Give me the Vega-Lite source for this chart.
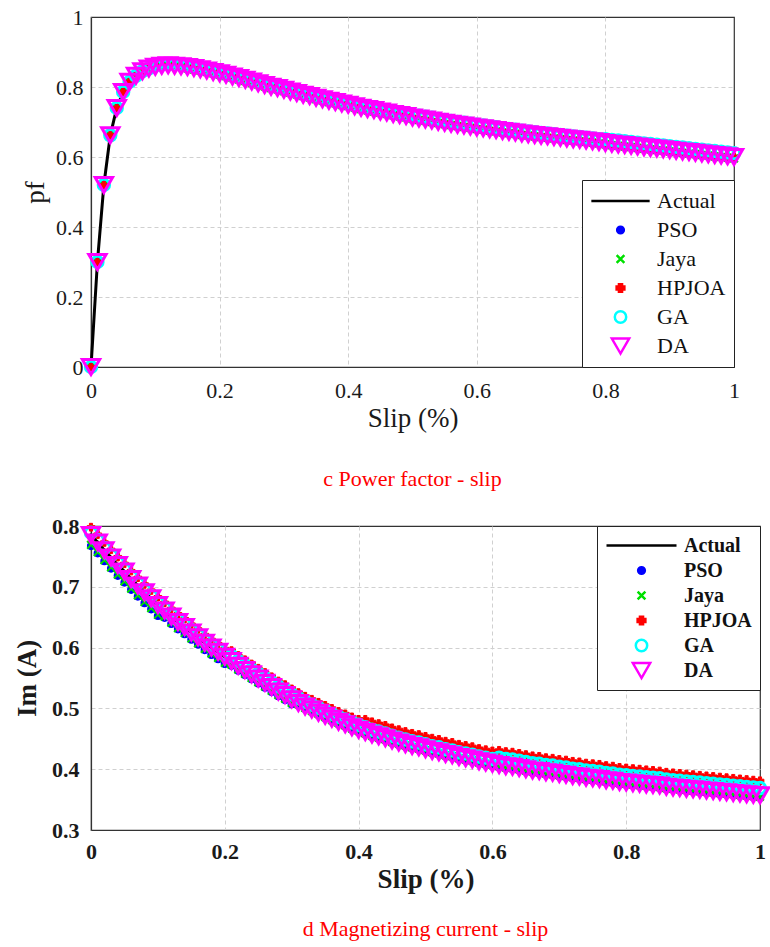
{
"$schema":"https://vega.github.io/schema/vega-lite/v6.json",
"padding":{"left":12,"top":5,"right":5,"bottom":5},
"config":{
 "font":"Liberation Serif, Times New Roman, serif",
 "view":{"stroke":"#333","strokeWidth":1.2},
 "axis":{"labelFont":"Liberation Serif, Times New Roman, serif","labelFontSize":22,"labelColor":"#1a1a1a","titleFont":"Liberation Serif, Times New Roman, serif","titleFontSize":27,"titleFontWeight":"normal","titleColor":"#1a1a1a","domainColor":"#333","domainWidth":1.2,"ticks":false,"grid":true,"gridColor":"#d0d0d0","gridDash":[4,3],"gridWidth":1,"labelFlush":false,"gridOpacity":{"condition":{"test":"datum.value === 1","value":0},"value":1}},
 "legend":{"labelFont":"Liberation Serif, Times New Roman, serif"},
 "title":{"font":"Liberation Serif, Times New Roman, serif"}
},
"datasets":{
"pf":[
{"s":0,"Actual":0,"PSO":0,"Jaya":0,"HPJOA":0,"GA":0,"DA":0},
{"s":0.01,"Actual":0.3,"PSO":0.3,"Jaya":0.3,"HPJOA":0.3,"GA":0.3,"DA":0.3},
{"s":0.02,"Actual":0.52,"PSO":0.52,"Jaya":0.52,"HPJOA":0.52,"GA":0.52,"DA":0.52},
{"s":0.03,"Actual":0.662,"PSO":0.662,"Jaya":0.662,"HPJOA":0.662,"GA":0.662,"DA":0.662},
{"s":0.04,"Actual":0.74,"PSO":0.74,"Jaya":0.74,"HPJOA":0.74,"GA":0.74,"DA":0.74},
{"s":0.05,"Actual":0.786,"PSO":0.786,"Jaya":0.786,"HPJOA":0.786,"GA":0.786,"DA":0.786},
{"s":0.06,"Actual":0.815,"PSO":0.815,"Jaya":0.815,"HPJOA":0.815,"GA":0.815,"DA":0.815},
{"s":0.07,"Actual":0.832,"PSO":0.832,"Jaya":0.832,"HPJOA":0.832,"GA":0.832,"DA":0.832},
{"s":0.08,"Actual":0.845,"PSO":0.845,"Jaya":0.845,"HPJOA":0.845,"GA":0.845,"DA":0.845},
{"s":0.09,"Actual":0.853,"PSO":0.853,"Jaya":0.853,"HPJOA":0.853,"GA":0.853,"DA":0.853},
{"s":0.1,"Actual":0.858,"PSO":0.858,"Jaya":0.858,"HPJOA":0.858,"GA":0.862,"DA":0.858},
{"s":0.11,"Actual":0.861,"PSO":0.861,"Jaya":0.861,"HPJOA":0.861,"GA":0.865,"DA":0.861},
{"s":0.12,"Actual":0.862,"PSO":0.862,"Jaya":0.862,"HPJOA":0.862,"GA":0.866,"DA":0.862},
{"s":0.13,"Actual":0.861,"PSO":0.861,"Jaya":0.861,"HPJOA":0.861,"GA":0.865,"DA":0.861},
{"s":0.14,"Actual":0.859,"PSO":0.859,"Jaya":0.859,"HPJOA":0.859,"GA":0.863,"DA":0.859},
{"s":0.15,"Actual":0.857,"PSO":0.852,"Jaya":0.853,"HPJOA":0.857,"GA":0.861,"DA":0.857},
{"s":0.16,"Actual":0.854,"PSO":0.849,"Jaya":0.85,"HPJOA":0.854,"GA":0.858,"DA":0.854},
{"s":0.17,"Actual":0.851,"PSO":0.846,"Jaya":0.847,"HPJOA":0.851,"GA":0.855,"DA":0.851},
{"s":0.18,"Actual":0.847,"PSO":0.842,"Jaya":0.843,"HPJOA":0.847,"GA":0.851,"DA":0.847},
{"s":0.19,"Actual":0.843,"PSO":0.838,"Jaya":0.839,"HPJOA":0.843,"GA":0.847,"DA":0.843},
{"s":0.2,"Actual":0.839,"PSO":0.834,"Jaya":0.835,"HPJOA":0.839,"GA":0.843,"DA":0.839},
{"s":0.21,"Actual":0.835,"PSO":0.83,"Jaya":0.831,"HPJOA":0.835,"GA":0.839,"DA":0.835},
{"s":0.22,"Actual":0.83,"PSO":0.825,"Jaya":0.826,"HPJOA":0.83,"GA":0.834,"DA":0.83},
{"s":0.23,"Actual":0.826,"PSO":0.821,"Jaya":0.822,"HPJOA":0.826,"GA":0.83,"DA":0.826},
{"s":0.24,"Actual":0.821,"PSO":0.816,"Jaya":0.817,"HPJOA":0.821,"GA":0.825,"DA":0.821},
{"s":0.25,"Actual":0.816,"PSO":0.811,"Jaya":0.812,"HPJOA":0.816,"GA":0.82,"DA":0.816},
{"s":0.26,"Actual":0.811,"PSO":0.806,"Jaya":0.807,"HPJOA":0.811,"GA":0.815,"DA":0.811},
{"s":0.27,"Actual":0.806,"PSO":0.801,"Jaya":0.802,"HPJOA":0.806,"GA":0.81,"DA":0.806},
{"s":0.28,"Actual":0.801,"PSO":0.796,"Jaya":0.797,"HPJOA":0.801,"GA":0.805,"DA":0.801},
{"s":0.29,"Actual":0.797,"PSO":0.792,"Jaya":0.793,"HPJOA":0.797,"GA":0.801,"DA":0.797},
{"s":0.3,"Actual":0.792,"PSO":0.787,"Jaya":0.788,"HPJOA":0.792,"GA":0.796,"DA":0.792},
{"s":0.31,"Actual":0.787,"PSO":0.782,"Jaya":0.783,"HPJOA":0.787,"GA":0.791,"DA":0.787},
{"s":0.32,"Actual":0.783,"PSO":0.778,"Jaya":0.779,"HPJOA":0.783,"GA":0.787,"DA":0.783},
{"s":0.33,"Actual":0.778,"PSO":0.773,"Jaya":0.774,"HPJOA":0.778,"GA":0.782,"DA":0.778},
{"s":0.34,"Actual":0.774,"PSO":0.769,"Jaya":0.77,"HPJOA":0.774,"GA":0.778,"DA":0.774},
{"s":0.35,"Actual":0.769,"PSO":0.764,"Jaya":0.765,"HPJOA":0.769,"GA":0.773,"DA":0.769},
{"s":0.36,"Actual":0.765,"PSO":0.76,"Jaya":0.761,"HPJOA":0.765,"GA":0.769,"DA":0.765},
{"s":0.37,"Actual":0.761,"PSO":0.756,"Jaya":0.757,"HPJOA":0.761,"GA":0.765,"DA":0.761},
{"s":0.38,"Actual":0.757,"PSO":0.752,"Jaya":0.753,"HPJOA":0.757,"GA":0.761,"DA":0.757},
{"s":0.39,"Actual":0.753,"PSO":0.748,"Jaya":0.749,"HPJOA":0.753,"GA":0.757,"DA":0.753},
{"s":0.4,"Actual":0.749,"PSO":0.744,"Jaya":0.745,"HPJOA":0.749,"GA":0.753,"DA":0.749},
{"s":0.41,"Actual":0.745,"PSO":0.74,"Jaya":0.741,"HPJOA":0.745,"GA":0.749,"DA":0.745},
{"s":0.42,"Actual":0.741,"PSO":0.736,"Jaya":0.737,"HPJOA":0.741,"GA":0.745,"DA":0.741},
{"s":0.43,"Actual":0.737,"PSO":0.732,"Jaya":0.733,"HPJOA":0.737,"GA":0.741,"DA":0.737},
{"s":0.44,"Actual":0.734,"PSO":0.729,"Jaya":0.73,"HPJOA":0.734,"GA":0.738,"DA":0.734},
{"s":0.45,"Actual":0.73,"PSO":0.725,"Jaya":0.726,"HPJOA":0.73,"GA":0.734,"DA":0.73},
{"s":0.46,"Actual":0.727,"PSO":0.722,"Jaya":0.723,"HPJOA":0.727,"GA":0.731,"DA":0.727},
{"s":0.47,"Actual":0.723,"PSO":0.718,"Jaya":0.719,"HPJOA":0.723,"GA":0.727,"DA":0.723},
{"s":0.48,"Actual":0.72,"PSO":0.715,"Jaya":0.716,"HPJOA":0.72,"GA":0.724,"DA":0.72},
{"s":0.49,"Actual":0.717,"PSO":0.712,"Jaya":0.713,"HPJOA":0.717,"GA":0.721,"DA":0.717},
{"s":0.5,"Actual":0.713,"PSO":0.708,"Jaya":0.709,"HPJOA":0.713,"GA":0.721,"DA":0.713},
{"s":0.51,"Actual":0.71,"PSO":0.705,"Jaya":0.706,"HPJOA":0.71,"GA":0.718,"DA":0.71},
{"s":0.52,"Actual":0.707,"PSO":0.702,"Jaya":0.703,"HPJOA":0.707,"GA":0.715,"DA":0.707},
{"s":0.53,"Actual":0.704,"PSO":0.699,"Jaya":0.7,"HPJOA":0.704,"GA":0.712,"DA":0.704},
{"s":0.54,"Actual":0.701,"PSO":0.696,"Jaya":0.697,"HPJOA":0.701,"GA":0.709,"DA":0.701},
{"s":0.55,"Actual":0.698,"PSO":0.693,"Jaya":0.694,"HPJOA":0.698,"GA":0.706,"DA":0.698},
{"s":0.56,"Actual":0.695,"PSO":0.69,"Jaya":0.691,"HPJOA":0.695,"GA":0.703,"DA":0.695},
{"s":0.57,"Actual":0.692,"PSO":0.687,"Jaya":0.688,"HPJOA":0.692,"GA":0.7,"DA":0.692},
{"s":0.58,"Actual":0.69,"PSO":0.685,"Jaya":0.686,"HPJOA":0.69,"GA":0.698,"DA":0.69},
{"s":0.59,"Actual":0.687,"PSO":0.682,"Jaya":0.683,"HPJOA":0.687,"GA":0.695,"DA":0.687},
{"s":0.6,"Actual":0.684,"PSO":0.679,"Jaya":0.68,"HPJOA":0.684,"GA":0.692,"DA":0.684},
{"s":0.61,"Actual":0.682,"PSO":0.677,"Jaya":0.678,"HPJOA":0.682,"GA":0.69,"DA":0.682},
{"s":0.62,"Actual":0.679,"PSO":0.674,"Jaya":0.675,"HPJOA":0.679,"GA":0.687,"DA":0.679},
{"s":0.63,"Actual":0.677,"PSO":0.672,"Jaya":0.673,"HPJOA":0.677,"GA":0.685,"DA":0.677},
{"s":0.64,"Actual":0.674,"PSO":0.669,"Jaya":0.67,"HPJOA":0.674,"GA":0.682,"DA":0.674},
{"s":0.65,"Actual":0.672,"PSO":0.667,"Jaya":0.668,"HPJOA":0.672,"GA":0.68,"DA":0.672},
{"s":0.66,"Actual":0.67,"PSO":0.665,"Jaya":0.666,"HPJOA":0.67,"GA":0.678,"DA":0.67},
{"s":0.67,"Actual":0.667,"PSO":0.662,"Jaya":0.663,"HPJOA":0.667,"GA":0.675,"DA":0.667},
{"s":0.68,"Actual":0.665,"PSO":0.66,"Jaya":0.661,"HPJOA":0.665,"GA":0.673,"DA":0.665},
{"s":0.69,"Actual":0.663,"PSO":0.658,"Jaya":0.659,"HPJOA":0.663,"GA":0.671,"DA":0.663},
{"s":0.7,"Actual":0.661,"PSO":0.656,"Jaya":0.657,"HPJOA":0.661,"GA":0.669,"DA":0.661},
{"s":0.71,"Actual":0.659,"PSO":0.654,"Jaya":0.655,"HPJOA":0.659,"GA":0.667,"DA":0.659},
{"s":0.72,"Actual":0.657,"PSO":0.652,"Jaya":0.653,"HPJOA":0.657,"GA":0.665,"DA":0.657},
{"s":0.73,"Actual":0.655,"PSO":0.65,"Jaya":0.651,"HPJOA":0.655,"GA":0.663,"DA":0.655},
{"s":0.74,"Actual":0.653,"PSO":0.648,"Jaya":0.649,"HPJOA":0.653,"GA":0.661,"DA":0.653},
{"s":0.75,"Actual":0.651,"PSO":0.646,"Jaya":0.647,"HPJOA":0.651,"GA":0.659,"DA":0.651},
{"s":0.76,"Actual":0.649,"PSO":0.644,"Jaya":0.645,"HPJOA":0.649,"GA":0.657,"DA":0.649},
{"s":0.77,"Actual":0.647,"PSO":0.642,"Jaya":0.643,"HPJOA":0.647,"GA":0.655,"DA":0.647},
{"s":0.78,"Actual":0.645,"PSO":0.64,"Jaya":0.641,"HPJOA":0.645,"GA":0.653,"DA":0.645},
{"s":0.79,"Actual":0.643,"PSO":0.638,"Jaya":0.639,"HPJOA":0.643,"GA":0.651,"DA":0.643},
{"s":0.8,"Actual":0.64,"PSO":0.635,"Jaya":0.636,"HPJOA":0.64,"GA":0.651,"DA":0.64},
{"s":0.81,"Actual":0.638,"PSO":0.633,"Jaya":0.634,"HPJOA":0.638,"GA":0.649,"DA":0.638},
{"s":0.82,"Actual":0.636,"PSO":0.631,"Jaya":0.632,"HPJOA":0.636,"GA":0.647,"DA":0.636},
{"s":0.83,"Actual":0.634,"PSO":0.629,"Jaya":0.63,"HPJOA":0.634,"GA":0.645,"DA":0.634},
{"s":0.84,"Actual":0.632,"PSO":0.627,"Jaya":0.628,"HPJOA":0.632,"GA":0.643,"DA":0.632},
{"s":0.85,"Actual":0.63,"PSO":0.625,"Jaya":0.626,"HPJOA":0.63,"GA":0.641,"DA":0.63},
{"s":0.86,"Actual":0.628,"PSO":0.623,"Jaya":0.624,"HPJOA":0.628,"GA":0.639,"DA":0.628},
{"s":0.87,"Actual":0.626,"PSO":0.621,"Jaya":0.622,"HPJOA":0.626,"GA":0.637,"DA":0.626},
{"s":0.88,"Actual":0.624,"PSO":0.619,"Jaya":0.62,"HPJOA":0.624,"GA":0.635,"DA":0.624},
{"s":0.89,"Actual":0.622,"PSO":0.617,"Jaya":0.618,"HPJOA":0.622,"GA":0.633,"DA":0.622},
{"s":0.9,"Actual":0.62,"PSO":0.615,"Jaya":0.616,"HPJOA":0.62,"GA":0.631,"DA":0.62},
{"s":0.91,"Actual":0.618,"PSO":0.613,"Jaya":0.614,"HPJOA":0.618,"GA":0.629,"DA":0.618},
{"s":0.92,"Actual":0.616,"PSO":0.611,"Jaya":0.612,"HPJOA":0.616,"GA":0.627,"DA":0.616},
{"s":0.93,"Actual":0.614,"PSO":0.609,"Jaya":0.61,"HPJOA":0.614,"GA":0.625,"DA":0.614},
{"s":0.94,"Actual":0.612,"PSO":0.607,"Jaya":0.608,"HPJOA":0.612,"GA":0.623,"DA":0.612},
{"s":0.95,"Actual":0.61,"PSO":0.605,"Jaya":0.606,"HPJOA":0.61,"GA":0.621,"DA":0.61},
{"s":0.96,"Actual":0.608,"PSO":0.603,"Jaya":0.604,"HPJOA":0.608,"GA":0.619,"DA":0.608},
{"s":0.97,"Actual":0.606,"PSO":0.601,"Jaya":0.602,"HPJOA":0.606,"GA":0.617,"DA":0.606},
{"s":0.98,"Actual":0.604,"PSO":0.599,"Jaya":0.6,"HPJOA":0.604,"GA":0.615,"DA":0.604},
{"s":0.99,"Actual":0.602,"PSO":0.597,"Jaya":0.598,"HPJOA":0.602,"GA":0.613,"DA":0.602},
{"s":1,"Actual":0.6,"PSO":0.595,"Jaya":0.596,"HPJOA":0.6,"GA":0.611,"DA":0.6}
],
"im":[
{"s":0,"Actual":0.785,"PSO":0.767,"Jaya":0.769,"HPJOA":0.798,"GA":0.789,"DA":0.785},
{"s":0.01,"Actual":0.773,"PSO":0.755,"Jaya":0.757,"HPJOA":0.786,"GA":0.777,"DA":0.773},
{"s":0.02,"Actual":0.76,"PSO":0.742,"Jaya":0.744,"HPJOA":0.773,"GA":0.764,"DA":0.76},
{"s":0.03,"Actual":0.748,"PSO":0.73,"Jaya":0.732,"HPJOA":0.761,"GA":0.752,"DA":0.748},
{"s":0.04,"Actual":0.736,"PSO":0.718,"Jaya":0.72,"HPJOA":0.749,"GA":0.74,"DA":0.736},
{"s":0.05,"Actual":0.725,"PSO":0.707,"Jaya":0.709,"HPJOA":0.738,"GA":0.729,"DA":0.725},
{"s":0.06,"Actual":0.713,"PSO":0.695,"Jaya":0.697,"HPJOA":0.726,"GA":0.717,"DA":0.713},
{"s":0.07,"Actual":0.702,"PSO":0.684,"Jaya":0.686,"HPJOA":0.715,"GA":0.706,"DA":0.702},
{"s":0.08,"Actual":0.691,"PSO":0.673,"Jaya":0.675,"HPJOA":0.704,"GA":0.695,"DA":0.691},
{"s":0.09,"Actual":0.681,"PSO":0.663,"Jaya":0.665,"HPJOA":0.694,"GA":0.685,"DA":0.681},
{"s":0.1,"Actual":0.67,"PSO":0.652,"Jaya":0.654,"HPJOA":0.683,"GA":0.674,"DA":0.67},
{"s":0.11,"Actual":0.661,"PSO":0.649,"Jaya":0.651,"HPJOA":0.674,"GA":0.665,"DA":0.661},
{"s":0.12,"Actual":0.651,"PSO":0.639,"Jaya":0.641,"HPJOA":0.664,"GA":0.655,"DA":0.651},
{"s":0.13,"Actual":0.642,"PSO":0.63,"Jaya":0.632,"HPJOA":0.655,"GA":0.646,"DA":0.642},
{"s":0.14,"Actual":0.634,"PSO":0.622,"Jaya":0.624,"HPJOA":0.647,"GA":0.638,"DA":0.634},
{"s":0.15,"Actual":0.625,"PSO":0.613,"Jaya":0.615,"HPJOA":0.638,"GA":0.629,"DA":0.625},
{"s":0.16,"Actual":0.617,"PSO":0.605,"Jaya":0.607,"HPJOA":0.63,"GA":0.621,"DA":0.617},
{"s":0.17,"Actual":0.608,"PSO":0.596,"Jaya":0.598,"HPJOA":0.621,"GA":0.612,"DA":0.608},
{"s":0.18,"Actual":0.6,"PSO":0.588,"Jaya":0.59,"HPJOA":0.613,"GA":0.604,"DA":0.6},
{"s":0.19,"Actual":0.593,"PSO":0.581,"Jaya":0.583,"HPJOA":0.606,"GA":0.597,"DA":0.593},
{"s":0.2,"Actual":0.585,"PSO":0.573,"Jaya":0.575,"HPJOA":0.598,"GA":0.589,"DA":0.585},
{"s":0.21,"Actual":0.578,"PSO":0.57,"Jaya":0.572,"HPJOA":0.595,"GA":0.586,"DA":0.578},
{"s":0.22,"Actual":0.57,"PSO":0.562,"Jaya":0.564,"HPJOA":0.587,"GA":0.578,"DA":0.57},
{"s":0.23,"Actual":0.563,"PSO":0.555,"Jaya":0.557,"HPJOA":0.58,"GA":0.571,"DA":0.563},
{"s":0.24,"Actual":0.556,"PSO":0.548,"Jaya":0.55,"HPJOA":0.573,"GA":0.564,"DA":0.556},
{"s":0.25,"Actual":0.549,"PSO":0.541,"Jaya":0.543,"HPJOA":0.566,"GA":0.557,"DA":0.549},
{"s":0.26,"Actual":0.542,"PSO":0.534,"Jaya":0.536,"HPJOA":0.559,"GA":0.55,"DA":0.542},
{"s":0.27,"Actual":0.535,"PSO":0.527,"Jaya":0.529,"HPJOA":0.552,"GA":0.543,"DA":0.535},
{"s":0.28,"Actual":0.528,"PSO":0.52,"Jaya":0.522,"HPJOA":0.545,"GA":0.536,"DA":0.528},
{"s":0.29,"Actual":0.522,"PSO":0.514,"Jaya":0.516,"HPJOA":0.539,"GA":0.53,"DA":0.522},
{"s":0.3,"Actual":0.515,"PSO":0.507,"Jaya":0.509,"HPJOA":0.532,"GA":0.523,"DA":0.515},
{"s":0.31,"Actual":0.509,"PSO":0.505,"Jaya":0.507,"HPJOA":0.526,"GA":0.517,"DA":0.509},
{"s":0.32,"Actual":0.503,"PSO":0.499,"Jaya":0.501,"HPJOA":0.52,"GA":0.511,"DA":0.503},
{"s":0.33,"Actual":0.498,"PSO":0.494,"Jaya":0.496,"HPJOA":0.515,"GA":0.506,"DA":0.498},
{"s":0.34,"Actual":0.493,"PSO":0.489,"Jaya":0.491,"HPJOA":0.51,"GA":0.501,"DA":0.493},
{"s":0.35,"Actual":0.488,"PSO":0.484,"Jaya":0.486,"HPJOA":0.505,"GA":0.496,"DA":0.488},
{"s":0.36,"Actual":0.483,"PSO":0.479,"Jaya":0.481,"HPJOA":0.5,"GA":0.491,"DA":0.483},
{"s":0.37,"Actual":0.478,"PSO":0.474,"Jaya":0.476,"HPJOA":0.495,"GA":0.486,"DA":0.478},
{"s":0.38,"Actual":0.474,"PSO":0.47,"Jaya":0.472,"HPJOA":0.491,"GA":0.482,"DA":0.474},
{"s":0.39,"Actual":0.469,"PSO":0.465,"Jaya":0.467,"HPJOA":0.486,"GA":0.477,"DA":0.469},
{"s":0.4,"Actual":0.465,"PSO":0.461,"Jaya":0.463,"HPJOA":0.482,"GA":0.473,"DA":0.465},
{"s":0.41,"Actual":0.461,"PSO":0.457,"Jaya":0.459,"HPJOA":0.482,"GA":0.469,"DA":0.461},
{"s":0.42,"Actual":0.457,"PSO":0.453,"Jaya":0.455,"HPJOA":0.478,"GA":0.465,"DA":0.457},
{"s":0.43,"Actual":0.454,"PSO":0.45,"Jaya":0.452,"HPJOA":0.475,"GA":0.462,"DA":0.454},
{"s":0.44,"Actual":0.451,"PSO":0.447,"Jaya":0.449,"HPJOA":0.472,"GA":0.459,"DA":0.451},
{"s":0.45,"Actual":0.447,"PSO":0.443,"Jaya":0.445,"HPJOA":0.468,"GA":0.455,"DA":0.447},
{"s":0.46,"Actual":0.444,"PSO":0.44,"Jaya":0.442,"HPJOA":0.465,"GA":0.452,"DA":0.444},
{"s":0.47,"Actual":0.441,"PSO":0.437,"Jaya":0.439,"HPJOA":0.462,"GA":0.449,"DA":0.441},
{"s":0.48,"Actual":0.438,"PSO":0.434,"Jaya":0.436,"HPJOA":0.459,"GA":0.446,"DA":0.438},
{"s":0.49,"Actual":0.436,"PSO":0.432,"Jaya":0.434,"HPJOA":0.457,"GA":0.444,"DA":0.436},
{"s":0.5,"Actual":0.433,"PSO":0.429,"Jaya":0.431,"HPJOA":0.454,"GA":0.441,"DA":0.433},
{"s":0.51,"Actual":0.43,"PSO":0.426,"Jaya":0.428,"HPJOA":0.451,"GA":0.438,"DA":0.43},
{"s":0.52,"Actual":0.428,"PSO":0.424,"Jaya":0.426,"HPJOA":0.449,"GA":0.436,"DA":0.428},
{"s":0.53,"Actual":0.425,"PSO":0.421,"Jaya":0.423,"HPJOA":0.446,"GA":0.433,"DA":0.425},
{"s":0.54,"Actual":0.423,"PSO":0.419,"Jaya":0.421,"HPJOA":0.444,"GA":0.431,"DA":0.423},
{"s":0.55,"Actual":0.42,"PSO":0.416,"Jaya":0.418,"HPJOA":0.441,"GA":0.428,"DA":0.42},
{"s":0.56,"Actual":0.418,"PSO":0.414,"Jaya":0.416,"HPJOA":0.439,"GA":0.426,"DA":0.418},
{"s":0.57,"Actual":0.416,"PSO":0.412,"Jaya":0.414,"HPJOA":0.437,"GA":0.424,"DA":0.416},
{"s":0.58,"Actual":0.413,"PSO":0.409,"Jaya":0.411,"HPJOA":0.434,"GA":0.421,"DA":0.413},
{"s":0.59,"Actual":0.411,"PSO":0.407,"Jaya":0.409,"HPJOA":0.432,"GA":0.419,"DA":0.411},
{"s":0.6,"Actual":0.409,"PSO":0.405,"Jaya":0.407,"HPJOA":0.43,"GA":0.417,"DA":0.409},
{"s":0.61,"Actual":0.407,"PSO":0.403,"Jaya":0.405,"HPJOA":0.431,"GA":0.419,"DA":0.407},
{"s":0.62,"Actual":0.405,"PSO":0.401,"Jaya":0.403,"HPJOA":0.429,"GA":0.417,"DA":0.405},
{"s":0.63,"Actual":0.404,"PSO":0.4,"Jaya":0.402,"HPJOA":0.428,"GA":0.416,"DA":0.404},
{"s":0.64,"Actual":0.402,"PSO":0.398,"Jaya":0.4,"HPJOA":0.426,"GA":0.414,"DA":0.402},
{"s":0.65,"Actual":0.4,"PSO":0.396,"Jaya":0.398,"HPJOA":0.424,"GA":0.412,"DA":0.4},
{"s":0.66,"Actual":0.398,"PSO":0.394,"Jaya":0.396,"HPJOA":0.422,"GA":0.41,"DA":0.398},
{"s":0.67,"Actual":0.397,"PSO":0.393,"Jaya":0.395,"HPJOA":0.421,"GA":0.409,"DA":0.397},
{"s":0.68,"Actual":0.395,"PSO":0.391,"Jaya":0.393,"HPJOA":0.419,"GA":0.407,"DA":0.395},
{"s":0.69,"Actual":0.394,"PSO":0.39,"Jaya":0.392,"HPJOA":0.418,"GA":0.406,"DA":0.394},
{"s":0.7,"Actual":0.392,"PSO":0.388,"Jaya":0.39,"HPJOA":0.416,"GA":0.404,"DA":0.392},
{"s":0.71,"Actual":0.391,"PSO":0.387,"Jaya":0.389,"HPJOA":0.415,"GA":0.403,"DA":0.391},
{"s":0.72,"Actual":0.389,"PSO":0.385,"Jaya":0.387,"HPJOA":0.413,"GA":0.401,"DA":0.389},
{"s":0.73,"Actual":0.388,"PSO":0.384,"Jaya":0.386,"HPJOA":0.412,"GA":0.4,"DA":0.388},
{"s":0.74,"Actual":0.386,"PSO":0.382,"Jaya":0.384,"HPJOA":0.41,"GA":0.398,"DA":0.386},
{"s":0.75,"Actual":0.385,"PSO":0.381,"Jaya":0.383,"HPJOA":0.409,"GA":0.397,"DA":0.385},
{"s":0.76,"Actual":0.384,"PSO":0.38,"Jaya":0.382,"HPJOA":0.408,"GA":0.396,"DA":0.384},
{"s":0.77,"Actual":0.382,"PSO":0.378,"Jaya":0.38,"HPJOA":0.406,"GA":0.394,"DA":0.382},
{"s":0.78,"Actual":0.381,"PSO":0.377,"Jaya":0.379,"HPJOA":0.405,"GA":0.393,"DA":0.381},
{"s":0.79,"Actual":0.379,"PSO":0.375,"Jaya":0.377,"HPJOA":0.403,"GA":0.391,"DA":0.379},
{"s":0.8,"Actual":0.378,"PSO":0.374,"Jaya":0.376,"HPJOA":0.402,"GA":0.39,"DA":0.378},
{"s":0.81,"Actual":0.377,"PSO":0.373,"Jaya":0.375,"HPJOA":0.401,"GA":0.389,"DA":0.377},
{"s":0.82,"Actual":0.376,"PSO":0.372,"Jaya":0.374,"HPJOA":0.4,"GA":0.388,"DA":0.376},
{"s":0.83,"Actual":0.375,"PSO":0.371,"Jaya":0.373,"HPJOA":0.399,"GA":0.387,"DA":0.375},
{"s":0.84,"Actual":0.374,"PSO":0.37,"Jaya":0.372,"HPJOA":0.398,"GA":0.386,"DA":0.374},
{"s":0.85,"Actual":0.373,"PSO":0.369,"Jaya":0.371,"HPJOA":0.397,"GA":0.385,"DA":0.373},
{"s":0.86,"Actual":0.371,"PSO":0.367,"Jaya":0.369,"HPJOA":0.395,"GA":0.383,"DA":0.371},
{"s":0.87,"Actual":0.37,"PSO":0.366,"Jaya":0.368,"HPJOA":0.394,"GA":0.382,"DA":0.37},
{"s":0.88,"Actual":0.369,"PSO":0.365,"Jaya":0.367,"HPJOA":0.393,"GA":0.381,"DA":0.369},
{"s":0.89,"Actual":0.368,"PSO":0.364,"Jaya":0.366,"HPJOA":0.392,"GA":0.38,"DA":0.368},
{"s":0.9,"Actual":0.367,"PSO":0.363,"Jaya":0.365,"HPJOA":0.391,"GA":0.379,"DA":0.367},
{"s":0.91,"Actual":0.366,"PSO":0.362,"Jaya":0.364,"HPJOA":0.39,"GA":0.378,"DA":0.366},
{"s":0.92,"Actual":0.365,"PSO":0.361,"Jaya":0.363,"HPJOA":0.389,"GA":0.377,"DA":0.365},
{"s":0.93,"Actual":0.364,"PSO":0.36,"Jaya":0.362,"HPJOA":0.388,"GA":0.376,"DA":0.364},
{"s":0.94,"Actual":0.363,"PSO":0.359,"Jaya":0.361,"HPJOA":0.387,"GA":0.375,"DA":0.363},
{"s":0.95,"Actual":0.362,"PSO":0.358,"Jaya":0.36,"HPJOA":0.386,"GA":0.374,"DA":0.362},
{"s":0.96,"Actual":0.361,"PSO":0.357,"Jaya":0.359,"HPJOA":0.385,"GA":0.373,"DA":0.361},
{"s":0.97,"Actual":0.36,"PSO":0.356,"Jaya":0.358,"HPJOA":0.384,"GA":0.372,"DA":0.36},
{"s":0.98,"Actual":0.359,"PSO":0.355,"Jaya":0.357,"HPJOA":0.383,"GA":0.371,"DA":0.359},
{"s":0.99,"Actual":0.358,"PSO":0.354,"Jaya":0.356,"HPJOA":0.382,"GA":0.37,"DA":0.358},
{"s":1,"Actual":0.357,"PSO":0.353,"Jaya":0.355,"HPJOA":0.381,"GA":0.369,"DA":0.357}
]
},
"concat":[
{
 "width":643,"height":350,
 "title":{"text":"c Power factor - slip","orient":"bottom","color":"#ff0000","font":"Liberation Serif, Times New Roman, serif","fontSize":22,"fontWeight":"normal","offset":38,"anchor":"middle"},
 "data":{"name":"pf"},
 "transform":[{"fold":["Actual","PSO","Jaya","HPJOA","GA","DA"],"as":["method","v"]}],
 "encoding":{
  "x":{"field":"s","type":"quantitative","scale":{"domain":[0,1],"nice":false},"axis":{"title":"Slip (%)","values":[0,0.2,0.4,0.6,0.8,1],"format":"~g","labelPadding":13,"titlePadding":4}},
  "y":{"field":"v","type":"quantitative","scale":{"domain":[0,1],"nice":false},"axis":{"title":"pf","values":[0,0.2,0.4,0.6,0.8,1],"format":"~g","labelPadding":8,"titlePadding":6}},
  "stroke":{"field":"method","type":"nominal","scale":{"domain":["Actual","PSO","Jaya","HPJOA","GA","DA"],"range":["#000000","#0000ff","#00e000","#ff0000","#00ffff","#ff00ff"]},"legend":{"title":null,"orient":"bottom-right","offset":0,"strokeColor":"#222","fillColor":"white","padding":8,"labelFont":"Liberation Serif, Times New Roman, serif","labelFontSize":22,"labelColor":"#111","clipHeight":26,"rowPadding":3,"labelOffset":6,"symbolStrokeWidth":2.5}},
  "fill":{"field":"method","type":"nominal","scale":{"domain":["Actual","PSO","Jaya","HPJOA","GA","DA"],"range":["transparent","#0000ff","transparent","#ff0000","transparent","transparent"]},"legend":{"title":null,"orient":"bottom-right","offset":0,"strokeColor":"#222","fillColor":"white","padding":8,"labelFont":"Liberation Serif, Times New Roman, serif","labelFontSize":22,"labelColor":"#111","clipHeight":26,"rowPadding":3,"labelOffset":6,"symbolStrokeWidth":2.5}},
  "shape":{"field":"method","type":"nominal","scale":{"domain":["Actual","PSO","Jaya","HPJOA","GA","DA"],"range":["stroke","circle","M-1,-1L1,1M-1,1L1,-1","cross","circle","triangle-down"]},"legend":{"title":null,"orient":"bottom-right","offset":0,"strokeColor":"#222","fillColor":"white","padding":8,"labelFont":"Liberation Serif, Times New Roman, serif","labelFontSize":22,"labelColor":"#111","clipHeight":26,"rowPadding":3,"labelOffset":6,"symbolStrokeWidth":2.5}},
  "size":{"field":"method","type":"nominal","scale":{"type":"ordinal","domain":["Actual","PSO","Jaya","HPJOA","GA","DA"],"range":[3400,45,60,60,130,300]},"legend":{"title":null,"orient":"bottom-right","offset":0,"strokeColor":"#222","fillColor":"white","padding":8,"labelFont":"Liberation Serif, Times New Roman, serif","labelFontSize":22,"labelColor":"#111","clipHeight":26,"rowPadding":3,"labelOffset":6,"symbolStrokeWidth":2.5}}
 },
 "layer":[
  {"transform":[{"filter":"datum.method === 'Actual'"}],"mark":{"type":"line"},"encoding":{"size":{"value":3},"fill":{"value":"transparent"},"shape":{"value":"circle"}}},
  {"transform":[{"filter":"datum.method === 'PSO'"}],"mark":{"type":"point","strokeWidth":1.5,"opacity":1}},
  {"transform":[{"filter":"datum.method === 'Jaya'"}],"mark":{"type":"point","strokeWidth":2,"opacity":1}},
  {"transform":[{"filter":"datum.method === 'HPJOA'"}],"mark":{"type":"point","strokeWidth":1,"opacity":1}},
  {"transform":[{"filter":"datum.method === 'GA'"}],"mark":{"type":"point","strokeWidth":3,"opacity":1}},
  {"transform":[{"filter":"datum.method === 'DA'"}],"mark":{"type":"point","strokeWidth":3,"opacity":1}}
 ]
},
{
 "width":669,"height":304,
 "title":{"text":"d Magnetizing current - slip","orient":"bottom","color":"#ff0000","font":"Liberation Serif, Times New Roman, serif","fontSize":22,"fontWeight":"normal","offset":27,"anchor":"middle"},
 "data":{"name":"im"},
 "transform":[{"fold":["Actual","PSO","Jaya","HPJOA","GA","DA"],"as":["method","v"]}],
 "encoding":{
  "x":{"field":"s","type":"quantitative","scale":{"domain":[0,1],"nice":false},"axis":{"title":"Slip (%)","values":[0,0.2,0.4,0.6,0.8,1],"format":"~g","labelPadding":11,"titlePadding":4,"labelFontWeight":"bold","titleFontWeight":"bold"}},
  "y":{"field":"v","type":"quantitative","scale":{"domain":[0.3,0.8],"nice":false,"zero":false},"axis":{"title":"Im (A)","values":[0.3,0.4,0.5,0.6,0.7,0.8],"format":"~g","labelPadding":12,"titlePadding":10,"labelFontWeight":"bold","titleFontWeight":"bold","gridOpacity":{"condition":{"test":"datum.value === 0.8","value":0},"value":1}}},
  "stroke":{"field":"method","type":"nominal","scale":{"domain":["Actual","PSO","Jaya","HPJOA","GA","DA"],"range":["#000000","#0000ff","#00e000","#ff0000","#00ffff","#ff00ff"]},"legend":{"title":null,"orient":"top-right","offset":0,"strokeColor":"#222","fillColor":"white","padding":8,"labelFont":"Liberation Serif, Times New Roman, serif","labelFontSize":20,"labelFontWeight":"bold","labelColor":"#111","clipHeight":23,"rowPadding":2,"labelOffset":6,"symbolStrokeWidth":2.5}},
  "fill":{"field":"method","type":"nominal","scale":{"domain":["Actual","PSO","Jaya","HPJOA","GA","DA"],"range":["transparent","#0000ff","transparent","#ff0000","transparent","transparent"]},"legend":{"title":null,"orient":"top-right","offset":0,"strokeColor":"#222","fillColor":"white","padding":8,"labelFont":"Liberation Serif, Times New Roman, serif","labelFontSize":20,"labelFontWeight":"bold","labelColor":"#111","clipHeight":23,"rowPadding":2,"labelOffset":6,"symbolStrokeWidth":2.5}},
  "shape":{"field":"method","type":"nominal","scale":{"domain":["Actual","PSO","Jaya","HPJOA","GA","DA"],"range":["stroke","circle","M-1,-1L1,1M-1,1L1,-1","cross","circle","triangle-down"]},"legend":{"title":null,"orient":"top-right","offset":0,"strokeColor":"#222","fillColor":"white","padding":8,"labelFont":"Liberation Serif, Times New Roman, serif","labelFontSize":20,"labelFontWeight":"bold","labelColor":"#111","clipHeight":23,"rowPadding":2,"labelOffset":6,"symbolStrokeWidth":2.5}},
  "size":{"field":"method","type":"nominal","scale":{"type":"ordinal","domain":["Actual","PSO","Jaya","HPJOA","GA","DA"],"range":[4900,45,60,60,130,300]},"legend":{"title":null,"orient":"top-right","offset":0,"strokeColor":"#222","fillColor":"white","padding":8,"labelFont":"Liberation Serif, Times New Roman, serif","labelFontSize":20,"labelFontWeight":"bold","labelColor":"#111","clipHeight":23,"rowPadding":2,"labelOffset":6,"symbolStrokeWidth":2.5}}
 },
 "layer":[
  {"transform":[{"filter":"datum.method === 'Actual'"}],"mark":{"type":"line"},"encoding":{"size":{"value":3},"fill":{"value":"transparent"},"shape":{"value":"circle"}}},
  {"transform":[{"filter":"datum.method === 'PSO'"}],"mark":{"type":"point","strokeWidth":1.5,"opacity":1}},
  {"transform":[{"filter":"datum.method === 'Jaya'"}],"mark":{"type":"point","strokeWidth":2,"opacity":1}},
  {"transform":[{"filter":"datum.method === 'HPJOA'"}],"mark":{"type":"point","strokeWidth":1,"opacity":1}},
  {"transform":[{"filter":"datum.method === 'GA'"}],"mark":{"type":"point","strokeWidth":3,"opacity":1}},
  {"transform":[{"filter":"datum.method === 'DA'"}],"mark":{"type":"point","strokeWidth":3,"opacity":1}}
 ]
}
],
"columns":1,
"spacing":23,
"resolve":{"scale":{"stroke":"independent","fill":"independent","shape":"independent","size":"independent"},"legend":{"stroke":"independent","fill":"independent","shape":"independent","size":"independent"}}
}
